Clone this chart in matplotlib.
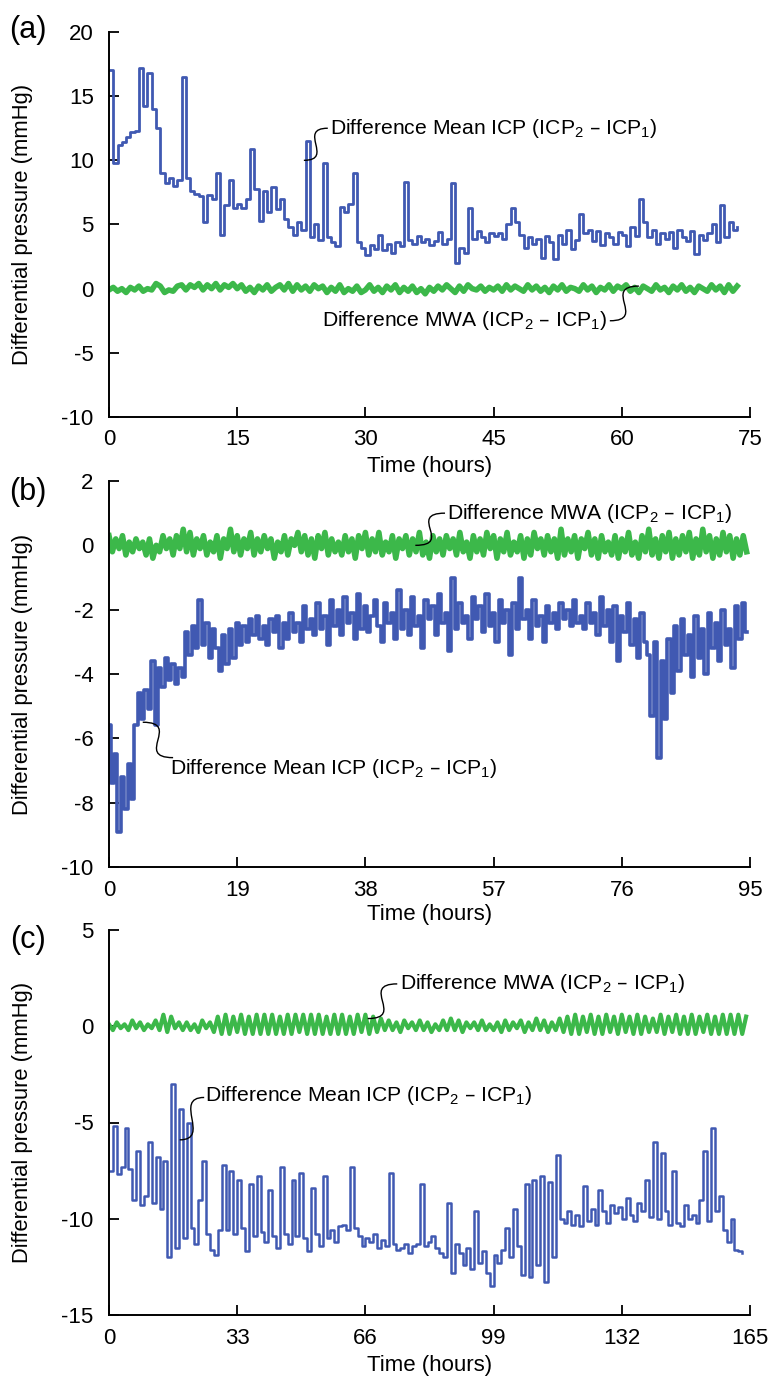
import numpy as np
import matplotlib
matplotlib.use('Agg')
import matplotlib.pyplot as plt
from matplotlib.path import Path
from matplotlib.patches import PathPatch

# ---- data ----
# panel (a): 0.5 h sampling
dt_a = 0.5
icp_a = [17.0, 9.8, 11.2, 11.4, 11.8, 12.2, 12.3, 17.2, 14.2, 16.8,
         14.0, 12.5, 9.0, 8.2, 8.6, 8.0, 8.5, 16.5, 8.6, 7.6,
         7.4, 7.2, 5.2, 7.3, 7.0, 9.0, 4.2, 6.5, 8.5, 6.3,
         6.6, 6.3, 7.0, 10.9, 7.8, 5.3, 7.6, 6.0, 7.9, 6.2,
         7.0, 5.4, 4.8, 4.2, 5.2, 4.6, 11.5, 4.0, 5.0, 3.8,
         9.8, 4.0, 3.6, 3.3, 6.4, 6.0, 6.6, 9.0, 3.6, 3.2,
         2.6, 3.4, 3.1, 4.2, 3.0, 3.5, 2.8, 3.6, 3.3, 8.3,
         3.8, 3.5, 4.1, 3.6, 3.9, 3.4, 3.7, 4.4, 3.5, 3.9,
         8.2, 2.0, 3.2, 2.8, 6.3, 3.9, 4.5, 4.0, 3.6, 4.3,
         4.1, 4.3, 3.9, 5.0, 6.3, 5.2, 4.2, 3.2, 4.0, 3.5,
         3.9, 2.4, 4.1, 3.6, 2.3, 4.2, 3.5, 4.6, 3.1, 3.8,
         5.8, 4.3, 4.6, 3.7, 4.5, 3.4, 4.3, 4.0, 3.5, 4.4,
         4.2, 3.3, 4.8, 4.1, 7.0, 5.2, 4.0, 4.6, 3.5, 4.3,
         3.9, 4.4, 3.2, 4.6, 4.0, 3.7, 4.5, 2.7, 4.2, 3.8,
         4.3, 5.0, 3.6, 6.5, 4.0, 5.2, 4.6, 4.8]
mwa_a = [-0.1, 0.1, -0.2, 0.0, -0.3, 0.1, -0.1, 0.2, -0.2, 0.0,
         -0.1, 0.4, 0.2, -0.3, -0.1, -0.2, 0.2, 0.3, -0.1, 0.3,
         0.1, 0.4, -0.1, 0.3, 0.0, 0.4, -0.1, 0.3, 0.1, 0.4,
         0.0, 0.3, -0.2, 0.1, -0.3, 0.2, -0.1, 0.3, -0.2, 0.1,
         0.3, -0.1, 0.4, -0.2, 0.3, -0.1, 0.2, -0.2, 0.3, 0.0,
         0.2, -0.3, 0.1, -0.2, 0.3, -0.3, 0.0, -0.2, 0.2, -0.3,
         -0.1, 0.3, -0.2, 0.1, -0.3, 0.2, -0.1, 0.3, -0.3, 0.1,
         -0.2, 0.2, -0.3, 0.0, -0.4, 0.1, -0.2, 0.2, -0.1, 0.3,
         0.0, -0.3, 0.2, -0.2, 0.3, 0.0, -0.1, 0.2, -0.2, 0.1,
         -0.1, 0.2, -0.2, 0.3, -0.1, 0.2, 0.0, -0.2, 0.3, -0.1,
         0.2, -0.2, 0.1, -0.3, 0.2, -0.1, 0.3, -0.2, 0.1, 0.0,
         -0.2, 0.3, -0.1, 0.2, -0.3, 0.1, -0.1, 0.3, -0.2, 0.2,
         0.0, 0.3, -0.2, 0.1, -0.3, 0.2, 0.0, -0.2, 0.3, -0.1,
         0.1, -0.3, 0.2, -0.1, 0.3, -0.2, 0.1, -0.3, 0.2, 0.0,
         -0.2, 0.3, -0.1, 0.2, -0.3, 0.3, -0.2, 0.2]

# panel (b): 0.5 h sampling
dt_b = 0.5
icp_b = [-5.6, -7.4, -6.5, -8.9, -7.2, -8.2, -6.8, -7.9, -5.6, -4.6,
         -5.4, -4.5, -5.1, -3.6, -5.6, -3.8, -4.4, -3.5, -4.2, -3.7,
         -4.3, -3.8, -4.1, -2.7, -3.4, -2.5, -3.2, -1.7, -3.1, -2.4,
         -3.5, -2.6, -3.2, -3.9, -2.8, -3.7, -2.6, -3.5, -2.4, -3.1,
         -2.5, -3.0, -2.3, -2.8, -2.2, -2.9, -2.5, -3.1, -2.3, -2.7,
         -2.2, -3.2, -2.4, -2.9, -2.1, -2.7, -2.4, -3.0, -1.9, -2.6,
         -2.3, -2.8, -1.8, -2.6, -2.2, -3.1, -1.7, -2.5, -2.0, -2.8,
         -1.6, -2.4, -2.1, -2.9, -1.5, -2.6, -1.9, -2.7, -2.2, -1.7,
         -2.5, -3.0, -1.8, -2.4, -2.1, -2.9, -1.4, -2.6, -2.0, -2.8,
         -1.6, -2.5, -2.2, -3.2, -1.7, -2.3, -1.9, -2.8, -1.5, -2.4,
         -2.1, -3.3, -1.0, -2.6, -1.8, -2.4, -2.2, -2.9, -1.6, -2.3,
         -1.9, -2.7, -1.5, -2.5, -2.1, -3.0, -1.7, -2.4, -2.0, -3.4,
         -1.8, -2.6, -1.0, -2.3, -2.0, -2.9, -1.7, -2.5, -2.2, -3.0,
         -1.9, -2.4, -2.1, -2.6, -1.8, -2.3, -2.0, -2.5, -1.7, -2.4,
         -2.2, -2.6, -1.8, -2.4, -2.1, -2.8, -1.6, -2.5, -2.0, -3.0,
         -1.9, -3.6, -2.2, -2.7, -1.8, -3.1, -2.3, -3.5, -2.1, -3.0,
         -3.4, -5.3, -3.0, -6.6, -3.6, -5.4, -2.9, -4.6, -2.5, -3.9,
         -2.3, -3.4, -2.8, -4.1, -2.2, -3.5, -2.6, -4.0, -2.1, -3.2,
         -2.4, -3.6, -2.0, -3.1, -2.6, -3.8, -1.9, -2.9, -1.8, -2.7]
mwa_b = [0.3, -0.2, 0.2, -0.1, 0.3, -0.3, 0.1, -0.2, 0.2, -0.1,
         0.1, -0.3, 0.2, -0.4, 0.0, -0.2, 0.3, -0.1, 0.2, -0.3,
         0.3, -0.1, 0.5, -0.2, 0.4, -0.3, 0.2, -0.1, 0.3, -0.3,
         0.1, -0.2, 0.3, -0.4, 0.2, -0.1, 0.5, -0.2, 0.3, -0.3,
         0.2, -0.1, 0.4, -0.3, 0.2, -0.2, 0.3, -0.1, 0.2, -0.4,
         0.1, -0.2, 0.3, -0.3, 0.2, 0.0, 0.4, -0.2, 0.3, -0.3,
         0.2, -0.4, 0.3, -0.1, 0.4, -0.3, 0.2, -0.2, 0.1, -0.3,
         0.3, -0.2, 0.2, -0.4, 0.3, -0.1, 0.4, -0.3, 0.2, -0.2,
         0.4, -0.3, 0.1, -0.2, 0.3, -0.4, 0.2, -0.1, 0.3, -0.3,
         0.2, -0.2, 0.4, -0.3, 0.1, -0.4, 0.3, -0.2, 0.2, -0.3,
         0.3, -0.1, 0.2, -0.3, 0.4, -0.2, 0.1, -0.4, 0.3, -0.2,
         0.2, -0.3, 0.4, -0.1, 0.3, -0.4, 0.2, -0.2, 0.4, -0.3,
         0.1, -0.2, 0.3, -0.4, 0.2, -0.3, 0.4, -0.1, 0.2, -0.3,
         0.3, -0.2, 0.2, -0.4, 0.5, -0.3, 0.2, -0.2, 0.3, -0.4,
         0.2, -0.1, 0.4, -0.3, 0.2, -0.4, 0.3, -0.2, 0.1, -0.3,
         0.3, -0.4, 0.2, -0.2, 0.4, -0.3, 0.1, -0.4, 0.3, -0.2,
         0.5, -0.3, 0.2, -0.4, 0.3, -0.2, 0.4, -0.4, 0.2, -0.3,
         0.3, -0.2, 0.4, -0.4, 0.2, -0.3, 0.5, -0.2, 0.3, -0.4,
         0.2, -0.3, 0.4, -0.2, 0.3, -0.4, 0.2, -0.3, 0.3, -0.2]

# panel (c): 1 h sampling
dt_c = 1.0
icp_c = [-7.5, -5.2, -7.7, -7.3, -5.3, -7.4, -9.0, -6.5, -9.3, -8.8,
         -6.0, -9.2, -6.8, -9.5, -7.0, -12.0, -3.0, -11.5, -4.3, -11.0,
         -5.0, -10.5, -11.3, -9.0, -7.0, -10.8, -11.6, -11.9, -10.6, -7.2,
         -10.6, -7.5, -10.8, -8.0, -10.5, -11.7, -8.2, -10.9, -7.8, -10.7,
         -11.2, -8.5, -10.9, -11.5, -7.3, -10.8, -11.3, -8.0, -10.9, -7.6,
         -11.0, -11.7, -8.4, -10.8, -11.4, -7.8, -11.0, -10.6, -11.2, -10.4,
         -10.3, -10.6, -7.3, -10.5, -10.9, -11.4, -11.0, -11.2, -10.8, -11.5,
         -11.1, -11.4, -7.6, -11.3, -11.6, -11.5, -11.3, -11.8, -11.4, -11.3,
         -8.2, -11.4, -11.2, -10.9, -11.5, -11.8, -12.0, -9.2, -12.8, -11.3,
         -11.8, -12.4, -11.5, -12.6, -9.6, -12.3, -11.7, -12.8, -13.5, -11.9,
         -12.3, -11.6, -10.5, -12.0, -9.5, -11.4, -12.9, -8.2, -13.0, -8.0,
         -12.4, -7.8, -13.3, -8.1, -12.0, -6.7, -10.0, -10.2, -9.6, -10.3,
         -9.8, -10.4, -8.3, -10.1, -9.5, -10.3, -8.5, -9.6, -10.2, -9.3,
         -9.7, -9.4, -10.0, -8.9, -9.8, -10.1, -9.2, -9.6, -8.0, -9.9,
         -6.0, -10.0, -6.6, -9.6, -10.3, -7.5, -10.2, -10.4, -9.3, -10.0,
         -9.8, -10.2, -9.0, -6.5, -10.1, -5.3, -9.6, -8.8, -10.6, -11.2,
         -10.0, -11.6, -11.7, -11.8]
mwa_c = [0.1, -0.2, 0.2, -0.1, 0.1, -0.2, 0.3, -0.1, 0.2, -0.2,
         0.1, -0.1, 0.3, -0.2, 0.6, -0.3, 0.5, -0.1, 0.2, -0.2,
         0.2, -0.2, 0.1, -0.3, 0.3, -0.1, 0.2, -0.3, 0.5, -0.4,
         0.6, -0.4, 0.5, -0.3, 0.6, -0.4, 0.5, -0.4, 0.6, -0.4,
         0.6, -0.4, 0.6, -0.4, 0.5, -0.4, 0.6, -0.4, 0.6, -0.3,
         0.6, -0.4, 0.6, -0.4, 0.6, -0.4, 0.5, -0.4, 0.6, -0.4,
         0.6, -0.4, 0.5, -0.4, 0.6, -0.3, 0.6, -0.4, 0.5, -0.3,
         0.4, -0.2, 0.3, -0.2, 0.2, -0.3, 0.3, -0.1, 0.2, -0.2,
         0.3, -0.2, 0.2, -0.3, 0.1, -0.2, 0.3, -0.2, 0.4, -0.2,
         0.3, -0.3, 0.2, -0.1, 0.2, -0.2, 0.3, -0.2, 0.1, -0.2,
         0.2, -0.3, 0.3, -0.2, 0.2, -0.1, 0.3, -0.3, 0.2, -0.2,
         0.4, -0.2, 0.3, -0.3, 0.2, -0.2, 0.4, -0.3, 0.5, -0.4,
         0.6, -0.4, 0.5, -0.3, 0.6, -0.4, 0.5, -0.4, 0.6, -0.3,
         0.5, -0.4, 0.6, -0.3, 0.5, -0.4, 0.6, -0.4, 0.5, -0.3,
         0.4, -0.3, 0.6, -0.4, 0.5, -0.3, 0.6, -0.4, 0.5, -0.4,
         0.6, -0.4, 0.5, -0.3, 0.6, -0.4, 0.5, -0.4, 0.6, -0.4,
         0.6, -0.4, 0.6, -0.4, 0.5]

xticks_a = [0, 15, 30, 45, 60, 75]
xticks_b = [0, 19, 38, 57, 76, 95]
xticks_c = [0, 33, 66, 99, 132, 165]
yticks_a = [-10, -5, 0, 5, 10, 15, 20]
yticks_b = [-10, -8, -6, -4, -2, 0, 2]
yticks_c = [-15, -10, -5, 0, 5]

lbl_mean = 'Difference Mean ICP (ICP$_2$ \u2013 ICP$_1$)'
lbl_mwa = 'Difference MWA (ICP$_2$ \u2013 ICP$_1$)'

# ---- style ----
plt.rcParams['font.family'] = ['Liberation Sans', 'DejaVu Sans']
plt.rcParams['mathtext.default'] = 'regular'
BLUE = '#4059b2'
GREEN = '#3cb84a'
ANN = 15.2

fig = plt.figure(figsize=(7.72, 13.76), dpi=100)


def leader(ax, p0, p1, k=1.3):
    # small S-shaped pointer line between the label and the curve
    (x0, y0), (x1, y1) = p0, p1
    dx = x1 - x0
    verts = [(x0, y0), (x0 + k * dx, y0), (x1 - k * dx, y1), (x1, y1)]
    codes = [Path.MOVETO, Path.CURVE4, Path.CURVE4, Path.CURVE4]
    ax.add_patch(PathPatch(Path(verts, codes), fc='none', ec='black', lw=1.0, zorder=5))


def setup(ax, xmax, xticks, ymin, ymax, yticks):
    ax.set_xlim(0, xmax)
    ax.set_ylim(ymin, ymax)
    ax.set_xticks(xticks)
    ax.set_yticks(yticks)
    ax.set_yticklabels([str(v) for v in yticks])
    for s in ['top', 'right']:
        ax.spines[s].set_visible(False)
    for s in ['left', 'bottom']:
        ax.spines[s].set_linewidth(1.4)
    ax.tick_params(direction='in', length=7, width=1.3, labelsize=16)
    ax.tick_params(axis='x', pad=9)
    ax.tick_params(axis='y', pad=11)
    ax.set_xlabel('Time (hours)', fontsize=16)
    ax.xaxis.label.set_va('center')
    ax.xaxis.set_label_coords(0.5, -0.128)
    ax.set_ylabel('Differential pressure (mmHg)', fontsize=15.8)
    ax.yaxis.set_label_coords(-0.118, 0.5)


left, width = 109 / 772, (750 - 109) / 772
ax_a = fig.add_axes([left, 1 - 417 / 1376, width, 385 / 1376])
ax_b = fig.add_axes([left, 1 - 867 / 1376, width, 386 / 1376])
ax_c = fig.add_axes([left, 1 - 1315 / 1376, width, 385 / 1376])

# (a)
t = np.arange(len(icp_a)) * dt_a
ax_a.plot(t, mwa_a, color=GREEN, lw=4.0)
ax_a.plot(t, icp_a, color=BLUE, lw=2.0, drawstyle='steps-post')
setup(ax_a, 75, xticks_a, -10, 20, yticks_a)
leader(ax_a, (22.8, 10.0), (25.6, 12.5))
ax_a.text(25.9, 12.5, lbl_mean, fontsize=ANN, ha='left', va='center')
leader(ax_a, (58.6, -2.5), (62.0, 0.2))
ax_a.text(58.3, -2.5, lbl_mwa, fontsize=ANN, ha='right', va='center')

# (b)
t = np.arange(len(icp_b)) * dt_b
ax_b.plot(t, mwa_b, color=GREEN, lw=4.0)
ax_b.plot(t, icp_b, color=BLUE, lw=2.6, drawstyle='steps-mid')
setup(ax_b, 95, xticks_b, -10, 2, yticks_b)
leader(ax_b, (45.4, 0.0), (49.8, 1.0))
ax_b.text(50.1, 1.0, lbl_mwa, fontsize=ANN, ha='left', va='center')
leader(ax_b, (5.0, -5.5), (9.5, -6.6))
ax_b.text(9.1, -6.95, lbl_mean, fontsize=ANN, ha='left', va='center')
ax_b.xaxis.set_label_coords(0.5, -0.124)

# (c)
t = np.arange(len(icp_c)) * dt_c
ax_c.plot(np.arange(len(mwa_c)) * dt_c, mwa_c, color=GREEN, lw=3.0)
ax_c.plot(t, icp_c, color=BLUE, lw=1.8, drawstyle='steps-post')
setup(ax_c, 165, xticks_c, -15, 5, yticks_c)
leader(ax_c, (66.6, 0.4), (74.2, 2.2))
ax_c.text(74.8, 2.2, lbl_mwa, fontsize=ANN, ha='left', va='center')
leader(ax_c, (18.2, -5.9), (24.5, -3.7))
ax_c.text(24.8, -3.6, lbl_mean, fontsize=ANN, ha='left', va='center')
ax_c.xaxis.set_label_coords(0.5, -0.13)

for lab, yp in [('(a)', 30), ('(b)', 492), ('(c)', 940)]:
    fig.text(28 / 772, 1 - yp / 1376, lab, fontsize=22, ha='center', va='center')

fig.savefig('out.png', dpi=100)
